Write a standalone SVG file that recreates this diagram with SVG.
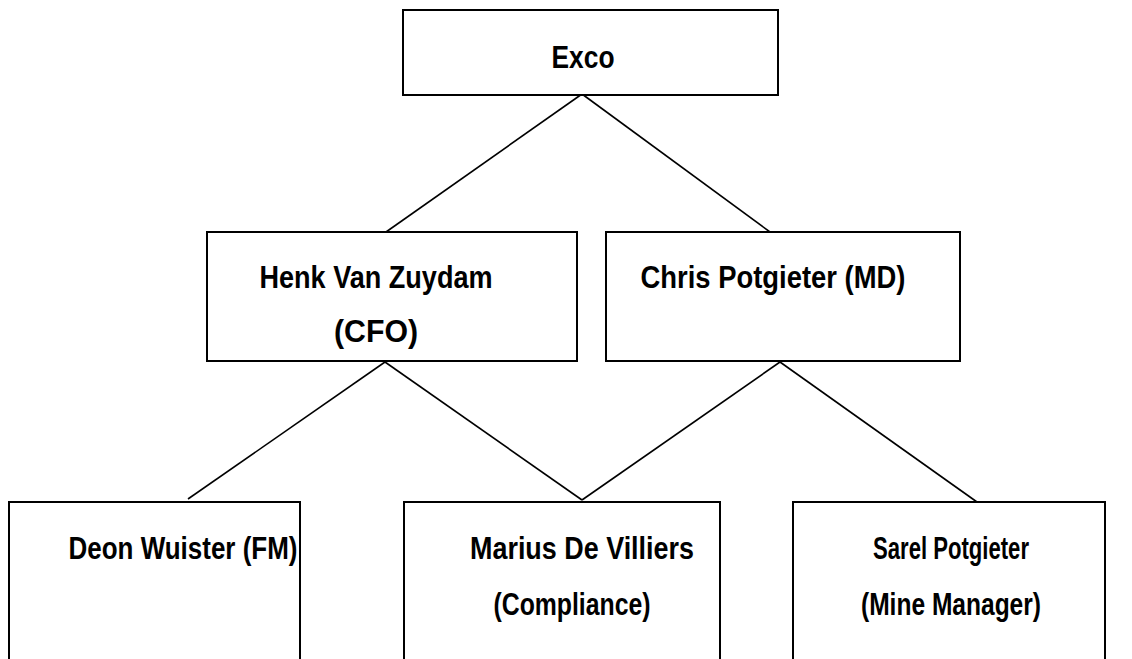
<svg xmlns="http://www.w3.org/2000/svg" width="1132" height="659" viewBox="0 0 1132 659">
<style>
.box{fill:#fff;stroke:#000;stroke-width:2}
.t{font-family:"Liberation Sans",Arial,sans-serif;font-weight:bold;font-size:31px;fill:#000;text-anchor:middle}
.ln{stroke:#000;stroke-width:1.6;fill:none}
</style>
<rect width="1132" height="659" fill="#fff"/>
<g id="connectors">
<line class="ln" x1="582" y1="94" x2="386" y2="232"/>
<line class="ln" x1="582" y1="94" x2="770" y2="232"/>
<line class="ln" x1="385" y1="362" x2="188" y2="499"/>
<line class="ln" x1="385" y1="362" x2="582" y2="500"/>
<line class="ln" x1="780" y1="362" x2="582" y2="500"/>
<line class="ln" x1="780" y1="362" x2="977" y2="502"/>
</g>
<g id="exco"><rect class="box" x="403" y="10" width="375" height="85"/><text class="t" x="583" y="68" textLength="63" lengthAdjust="spacingAndGlyphs">Exco</text></g>
<g id="henk"><rect class="box" x="207" y="232" width="370" height="129"/><text class="t" x="376" y="288" textLength="233" lengthAdjust="spacingAndGlyphs">Henk Van Zuydam</text><text class="t" x="376" y="342" textLength="84" lengthAdjust="spacingAndGlyphs">(CFO)</text></g>
<g id="chris"><rect class="box" x="606" y="232" width="354" height="129"/><text class="t" x="773" y="288" textLength="265" lengthAdjust="spacingAndGlyphs">Chris Potgieter (MD)</text></g>
<g id="deon"><rect class="box" x="9" y="502" width="291" height="170"/><text class="t" x="183" y="559" textLength="229" lengthAdjust="spacingAndGlyphs">Deon Wuister (FM)</text></g>
<g id="marius"><rect class="box" x="404" y="502" width="316" height="170"/><text class="t" x="582" y="559" textLength="224" lengthAdjust="spacingAndGlyphs">Marius De Villiers</text><text class="t" x="572" y="615" textLength="157" lengthAdjust="spacingAndGlyphs">(Compliance)</text></g>
<g id="sarel"><rect class="box" x="793" y="502" width="312" height="170"/><text class="t" x="951" y="559" textLength="156" lengthAdjust="spacingAndGlyphs">Sarel Potgieter</text><text class="t" x="951" y="615" textLength="180" lengthAdjust="spacingAndGlyphs">(Mine Manager)</text></g>
</svg>
